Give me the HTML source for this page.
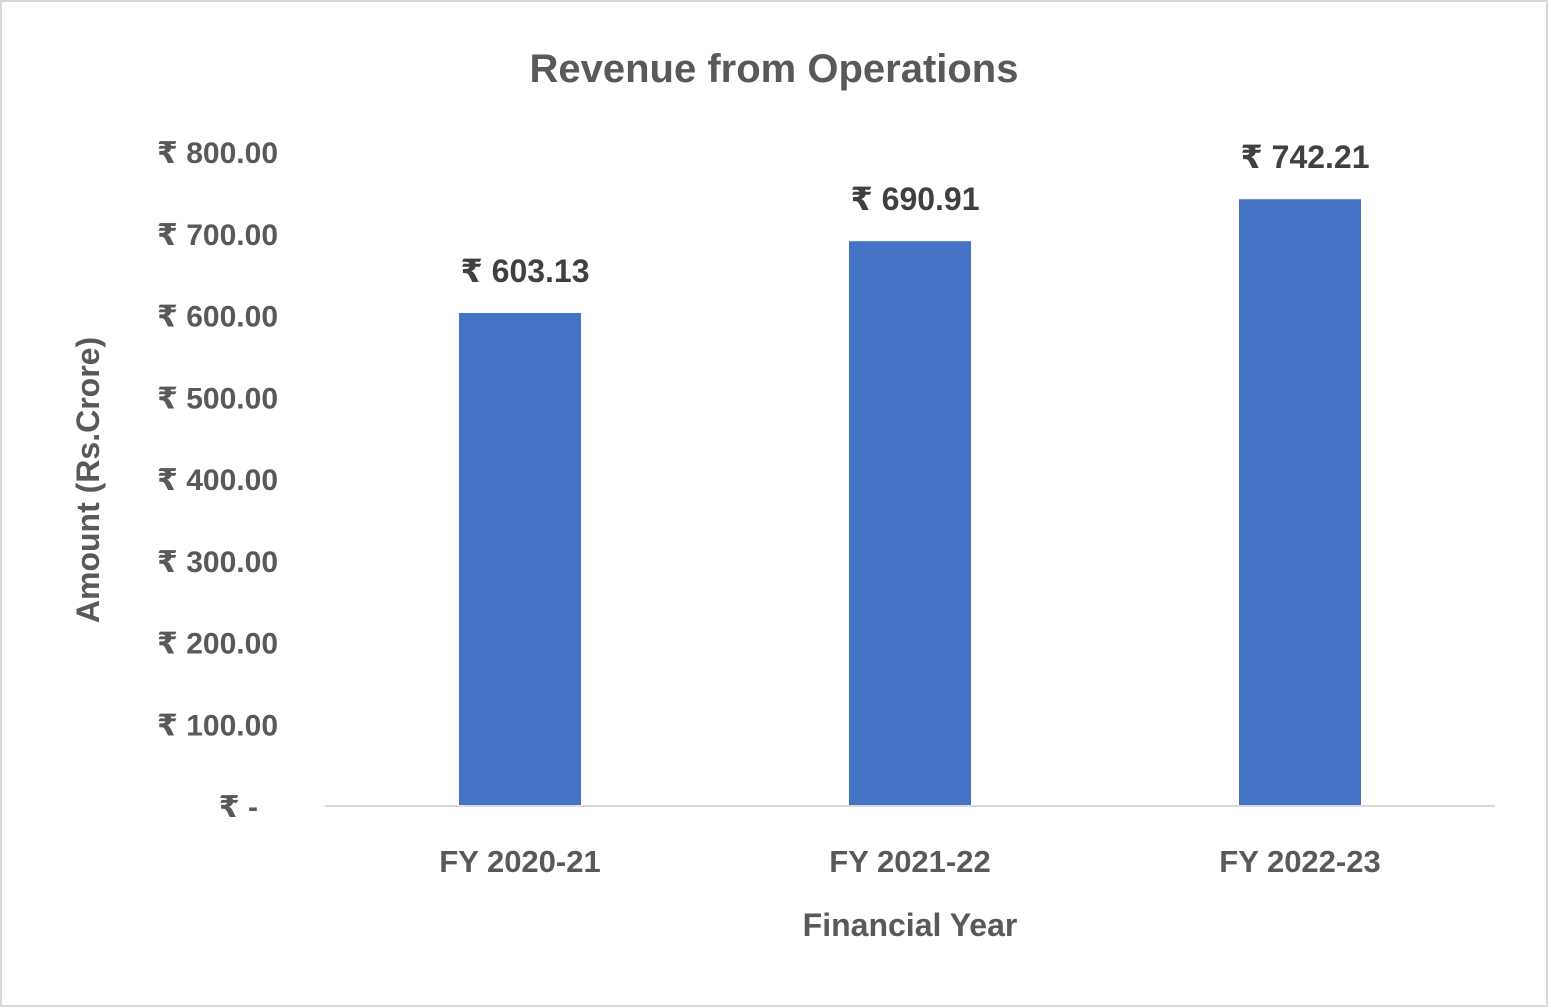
<!DOCTYPE html>
<html><head><meta charset="utf-8"><style>
body{margin:0;background:#fff;}
svg{display:block;font-family:"Liberation Sans","DejaVu Sans",sans-serif;font-weight:bold;}
</style></head><body>
<svg id="chart" width="1548" height="1007" viewBox="0 0 1548 1007">
<rect x="1" y="1" width="1546" height="1005" fill="#fff" stroke="#d9d9d9" stroke-width="2"/>
<text x="774" y="82" text-anchor="middle" font-size="40" fill="#595959">Revenue from Operations</text>
<text transform="translate(99,480) rotate(-90)" text-anchor="middle" font-size="32" fill="#595959">Amount (Rs.Crore)</text>
<text x="910" y="936" text-anchor="middle" font-size="32" fill="#595959">Financial Year</text>
<g id="ticks"></g><g id="bars"></g>
<line x1="325" y1="806" x2="1495" y2="806" stroke="#d9d9d9" stroke-width="2"/>
</svg>
<script>
const categories=["FY 2020-21","FY 2021-22","FY 2022-23"];
const values=[603.13,690.91,742.21];
const tickValues=[0,100,200,300,400,500,600,700,800];
const tickLabels=["₹ -","₹ 100.00","₹ 200.00","₹ 300.00","₹ 400.00","₹ 500.00","₹ 600.00","₹ 700.00","₹ 800.00"];
const NS="http://www.w3.org/2000/svg";
const y0=806,yTop=152,maxV=800;
function y(v){return y0-(v/maxV)*(y0-yTop);}
function x(i){return 325+(1170/categories.length)*(i+0.5);}
const tg=document.getElementById('ticks'),bg=document.getElementById('bars');
tickValues.forEach((v,i)=>{
 const t=document.createElementNS(NS,'text');
 
 
 t.setAttribute('x',v===0?258:278);t.setAttribute('y',y(v)+11);
 t.setAttribute('text-anchor','end');t.setAttribute('font-size','30');t.setAttribute('fill','#595959');
 t.textContent=tickLabels[i];tg.appendChild(t);
});
categories.forEach((c,i)=>{
 const w=122,cx=x(i);
 const r=document.createElementNS(NS,'rect');
 
 
 r.setAttribute('x',cx-w/2);r.setAttribute('y',y(values[i]));r.setAttribute('width',w);r.setAttribute('height',y0-y(values[i]));
 r.setAttribute('fill','#4472c4');bg.appendChild(r);
 const l=document.createElementNS(NS,'text');
 
 
 l.setAttribute('x',cx+5);l.setAttribute('y',y(values[i])-31);l.setAttribute('text-anchor','middle');
 l.setAttribute('font-size','32');l.setAttribute('fill','#404040');
 l.textContent='₹ '+values[i].toFixed(2);bg.appendChild(l);
 const cl=document.createElementNS(NS,'text');
 
 
 cl.setAttribute('x',cx);cl.setAttribute('y',872);cl.setAttribute('text-anchor','middle');
 cl.setAttribute('font-size','31');cl.setAttribute('fill','#595959');
 cl.textContent=c;bg.appendChild(cl);
});
</script>
</body></html>
